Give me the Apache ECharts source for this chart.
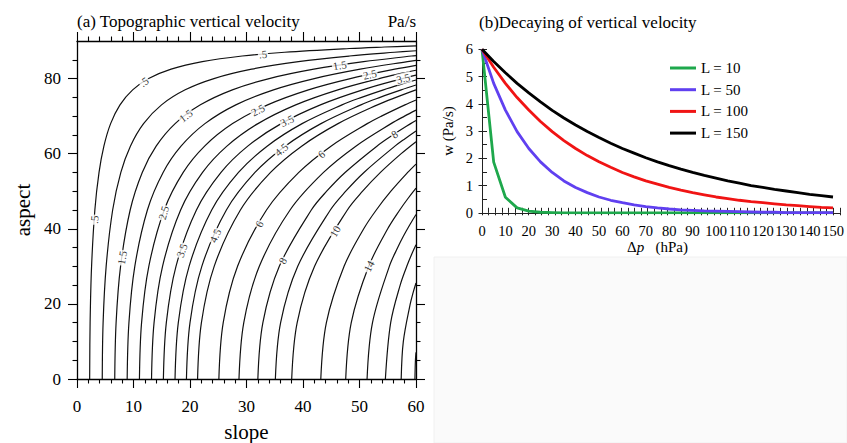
<!DOCTYPE html>
<html><head><meta charset="utf-8">
<script src="https://cdn.jsdelivr.net/npm/echarts@6/dist/echarts.min.js"></script>
<style>html,body{margin:0;padding:0;background:#fff}#c{width:847px;height:443px}</style>
</head><body><div id="c"></div>
<script>
// ---------- Panel (a): contour levels of topographic vertical velocity (Pa/s) ----------
const levels = [0.5, 1, 1.5, 2, 2.5, 3, 3.5, 4, 4.5, 5, 6, 7, 8, 9, 10, 12, 14, 16, 18, 20, 22];
// each contour: [slope, aspect] points
const c05 = [[2.24,0],[2.32,15],[2.58,30],[3.16,45],[3.90,55],[4.76,62],[5.95,68],[7.61,73],[9.85,77],[12.68,80],[16.66,82.5],[22.18,84.5],[29.23,86],[36.75,87],[48.21,88],[54.44,88.4],[60,88.71]];
const c10 = [[4.47,0],[4.62,15],[5.16,30],[6.31,45],[7.76,55],[9.45,62],[11.78,68],[14.96,73],[19.15,77],[24.23,80],[30.91,82.5],[39.19,84.5],[48.22,86],[56.20,87],[60,87.41]];
const c15 = [[6.68,0],[6.92,15],[7.71,30],[9.41,45],[11.55,55],[14.01,62],[17.37,68],[21.84,73],[27.50,77],[34.01,80],[41.92,82.5],[50.73,84.5],[59.22,86],[60,86.12]];
const c20 = [[8.88,0],[9.19,15],[10.23,30],[12.46,45],[15.24,55],[18.41,62],[22.64,68],[28.11,73],[34.78,77],[41.99,80],[50.13,82.5],[58.48,84.5],[60,84.82]];
const c25 = [[11.05,0],[11.43,15],[12.71,30],[15.44,45],[18.80,55],[22.59,62],[27.54,68],[33.74,73],[40.96,77],[48.37,80],[56.25,82.5],[60,83.53]];
const c30 = [[13.19,0],[13.64,15],[15.14,30],[18.34,45],[22.22,55],[26.53,62],[32.03,68],[38.71,73],[46.17,77],[53.47,80],[57.75,81.5],[60,82.22]];
const c35 = [[15.29,0],[15.81,15],[17.52,30],[21.14,45],[25.49,55],[30.22,62],[36.13,68],[43.08,73],[50.55,77],[57.59,80],[60,80.92]];
const c40 = [[17.35,0],[17.93,15],[19.84,30],[23.84,45],[28.58,55],[33.65,62],[39.84,68],[46.90,73],[50.37,75],[54.24,77],[57.46,78.5],[60,79.61]];
const c45 = [[19.37,0],[20.00,15],[22.09,30],[26.44,45],[31.50,55],[36.83,62],[43.18,68],[50.25,73],[53.64,75],[57.38,77],[60,78.29]];
const c50 = [[21.34,0],[22.02,15],[24.28,30],[28.92,45],[34.26,55],[39.76,62],[46.20,68],[53.18,73],[56.47,75],[60,76.97]];
const c60 = [[25.11,0],[25.88,15],[28.42,30],[33.54,45],[39.26,55],[44.95,62],[51.37,68],[53.88,70],[58.04,73],[60,74.30]];
const c70 = [[28.67,0],[29.52,15],[32.27,30],[37.71,45],[43.63,55],[49.35,62],[55.59,68],[57.97,70],[60,71.59]];
const c80 = [[32.01,0],[32.90,15],[35.81,30],[41.47,45],[44.19,50],[47.45,55],[53.08,62],[55.93,65],[59.06,68],[60,68.85]];
const c90 = [[35.11,0],[36.04,15],[39.07,30],[44.84,45],[47.57,50],[50.79,55],[56.27,62],[58.06,64],[60,66.05]];
const c100 = [[38.00,0],[38.97,15],[42.05,30],[47.85,45],[50.55,50],[53.71,55],[57.38,60],[60,63.19]];
const c120 = [[43.15,0],[44.14,15],[47.27,30],[50.75,40],[52.97,45],[55.56,50],[58.53,55],[60,57.23]];
const c140 = [[47.56,0],[48.54,15],[51.63,30],[54.99,40],[57.12,45],[58.54,48],[60,50.84]];
const c160 = [[51.34,0],[52.30,15],[55.28,30],[56.76,35],[57.76,38],[58.88,41],[60,43.80]];
const c180 = [[54.58,0],[55.52,15],[57.20,25],[58.37,30],[59.18,33],[60,35.72]];
const c200 = [[57.38,0],[57.76,10],[58.98,20],[59.49,23],[60,25.56]];
const c220 = [[59.81,0],[59.90,5],[60,7.10]];
const contourLines = [c05,c10,c15,c20,c25,c30,c35,c40,c45,c50,c60,c70,c80,c90,c100,c120,c140,c160,c180,c200,c220];

// contour labels: level, and where it sits (slope, aspect)
const labelLevels  = [0.5, 0.5, 0.5, 1.5, 1.5, 1.5, 2.5, 2.5, 2.5, 3.5, 3.5, 3.5, 4.5, 4.5, 6, 6, 8, 8, 10, 14];
const labelSlopes  = [32.9, 11.6, 3.3, 46.5, 19.1, 7.9, 51.8, 31.8, 15.2, 57.8, 37.1, 18.2, 36.2, 24.1, 43.0, 31.8, 56.0, 36.2, 45.3, 51.2];
const labelAspects = [86.9, 79.7, 42.4, 83.7, 70.4, 32.3, 81.3, 72.2, 44.3, 79.7, 69.0, 34.4, 61.0, 38.4, 60.3, 41.6, 65.6, 31.7, 39.7, 30.4];

const aspectTicks = [0, 20, 40, 60, 80];
const aspectMinorTicks = [5, 10, 15, 25, 30, 35, 45, 50, 55, 65, 70, 75, 85];

// ---------- Panel (b): decaying of vertical velocity ----------
const dp = [0,5,10,15,20,25,30,35,40,45,50,55,60,65,70,75,80,85,90,95,100,105,110,115,120,125,130,135,140,145,150];
const wL10  = [6,1.86,0.57,0.18,0.06,0.02,0.01,0,0,0,0,0,0,0,0,0,0,0,0,0,0,0,0,0,0,0,0,0,0,0,0];
const wL50  = [6,4.75,3.77,2.98,2.36,1.87,1.48,1.17,0.93,0.74,0.58,0.46,0.37,0.29,0.23,0.18,0.14,0.11,0.09,0.07,0.06,0.05,0.04,0.03,0.02,0.02,0.01,0.01,0.01,0.01,0.01];
const wL100 = [6,5.34,4.75,4.23,3.77,3.35,2.98,2.65,2.36,2.10,1.87,1.67,1.48,1.32,1.17,1.05,0.93,0.83,0.74,0.66,0.58,0.52,0.46,0.41,0.37,0.33,0.29,0.26,0.23,0.20,0.18];
const wL150 = [6,5.55,5.14,4.75,4.40,4.07,3.76,3.48,3.22,2.98,2.76,2.55,2.36,2.19,2.02,1.87,1.73,1.60,1.48,1.37,1.27,1.17,1.09,1.00,0.93,0.86,0.80,0.74,0.68,0.63,0.58];
const seriesNames = ['L = 10', 'L = 50', 'L = 100', 'L = 150'];
const seriesColors = ['#1ea84c', '#6040f0', '#f01414', '#000000'];
const wSeries = [wL10, wL50, wL100, wL150];

// ---------- build ----------
const SERIF = '"Liberation Serif","Times New Roman",serif';
const chart = echarts.init(document.getElementById('c'), null, {renderer: 'svg'});
const fmtLevel = v => String(v).replace(/^0\./, '.');
const black = '#000';

const contourSeries = contourLines.map((pts, i) => ({
  type: 'line', name: 'w' + levels[i], xAxisIndex: 0, yAxisIndex: 0,
  data: pts, showSymbol: false, symbol: 'none', smooth: 0.35,
  lineStyle: {color: '#111', width: 1.2}, z: 2, silent: true
}));

const bSeries = wSeries.map((arr, i) => ({
  type: 'line', name: seriesNames[i], xAxisIndex: 2, yAxisIndex: 4,
  data: dp.map((x, j) => [x, arr[j]]), showSymbol: false, symbol: 'none',
  color: seriesColors[i], itemStyle: {color: seriesColors[i]},
  lineStyle: {color: seriesColors[i], width: 2.8}, z: 3
}));

const tickStyle = {color: black, width: 1.1};
function axA(extra) {
  return Object.assign({
    type: 'value', splitLine: {show: false},
    axisLine: {show: true, onZero: false, lineStyle: {color: black, width: 1.3}},
    axisTick: {show: true, inside: false, length: 9, lineStyle: tickStyle},
    axisLabel: {show: false}
  }, extra);
}

const option = {
  backgroundColor: '#fff',
  animation: false,
  title: [
    {text: '(a) Topographic vertical velocity', left: 77, top: 13, padding: 0,
     textStyle: {fontFamily: SERIF, fontSize: 17, fontWeight: 'normal', color: black}},
    {text: 'Pa/s', right: 431, top: 13, padding: 0,
     textStyle: {fontFamily: SERIF, fontSize: 17, fontWeight: 'normal', color: black}},
    {text: '(b)Decaying of vertical velocity', left: 479, top: 14, padding: 0,
     textStyle: {fontFamily: SERIF, fontSize: 17, fontWeight: 'normal', color: black}}
  ],
  legend: {
    data: seriesNames, orient: 'vertical', left: 670, top: 60.5, padding: 0,
    itemGap: 6.7, itemWidth: 26, itemHeight: 3, icon: 'rect',
    textStyle: {fontFamily: SERIF, fontSize: 15, color: black, lineHeight: 15}
  },
  graphic: [
    {type: 'rect', silent: true, z: -10, shape: {x: 434, y: 257, width: 413, height: 186},
     style: {fill: '#fafafa', stroke: '#f0f0f0', lineWidth: 1}}
  ],
  grid: [
    {left: 77, top: 41, width: 339, height: 338, outerBoundsMode: 'none', containLabel: false},
    {left: 482, top: 49.3, width: 351, height: 163.5, outerBoundsMode: 'none', containLabel: false},
    {left: 482, top: 49.3, width: 358, height: 163.5, outerBoundsMode: 'none', containLabel: false}
  ],
  xAxis: [
    axA({gridIndex: 0, min: 0, max: 60, interval: 10, position: 'bottom',
      minorTick: {show: true, splitNumber: 5, length: 4.5, lineStyle: tickStyle},
      axisLabel: {show: true, fontFamily: SERIF, fontSize: 17, color: black, margin: 19},
      name: 'slope', nameLocation: 'middle', nameGap: 42,
      nameTextStyle: {fontFamily: SERIF, fontSize: 21, color: black}}),
    axA({gridIndex: 0, min: 0, max: 60, interval: 10, position: 'top',
      minorTick: {show: true, splitNumber: 5, length: 4.5, lineStyle: tickStyle}}),
    {type: 'value', gridIndex: 1, min: 0, max: 150, interval: 10, position: 'bottom', splitLine: {show: false},
      axisLine: {show: false, onZero: false}, axisTick: {show: false},
      axisLabel: {fontFamily: SERIF, fontSize: 14.5, color: black, margin: 11},
      name: '{n|Δ}{i|p}{n|   (hPa)}', nameLocation: 'middle', nameGap: 24,
      nameTextStyle: {rich: {
        n: {fontFamily: SERIF, fontSize: 15, color: black},
        i: {fontFamily: SERIF, fontSize: 15, color: black, fontStyle: 'italic'}}}},
    {type: 'value', gridIndex: 2, min: 0, max: 54, interval: 1, position: 'bottom', splitLine: {show: false},
      axisLine: {show: true, onZero: false, lineStyle: {color: '#222', width: 1}},
      axisTick: {show: true, inside: true, length: 5, lineStyle: {color: '#222', width: 1}},
      axisLabel: {show: false}},
    {type: 'value', gridIndex: 2, min: 0, max: 54, interval: 1, position: 'bottom', splitLine: {show: false},
      axisLine: {show: false, onZero: false},
      axisTick: {show: true, inside: false, length: 2.5, lineStyle: {color: '#222', width: 1}},
      axisLabel: {show: false}}
  ],
  yAxis: [
    axA({gridIndex: 0, min: 0, max: 90, interval: 20, position: 'left',
      axisTick: {show: true, inside: false, length: 9, customValues: aspectTicks, lineStyle: tickStyle},
      axisLabel: {show: true, customValues: aspectTicks, fontFamily: SERIF, fontSize: 17, color: black, margin: 16},
      name: 'aspect', nameLocation: 'middle', nameGap: 44, nameRotate: 90,
      nameTextStyle: {fontFamily: SERIF, fontSize: 21, color: black}}),
    axA({gridIndex: 0, min: 0, max: 90, position: 'left', axisLine: {show: false, onZero: false},
      axisTick: {show: true, inside: false, length: 4.5, customValues: aspectMinorTicks, lineStyle: tickStyle}}),
    axA({gridIndex: 0, min: 0, max: 90, interval: 20, position: 'right',
      axisTick: {show: true, inside: false, length: 9, customValues: aspectTicks, lineStyle: tickStyle}}),
    axA({gridIndex: 0, min: 0, max: 90, position: 'right', axisLine: {show: false, onZero: false},
      axisTick: {show: true, inside: false, length: 4.5, customValues: aspectMinorTicks, lineStyle: tickStyle}}),
    {type: 'value', gridIndex: 1, min: 0, max: 6, interval: 1, position: 'left', splitLine: {show: false},
      axisLine: {show: true, onZero: false, lineStyle: {color: '#222', width: 1}},
      axisTick: {show: true, inside: false, length: 3.5, lineStyle: {color: '#222', width: 1}},
      axisLabel: {fontFamily: SERIF, fontSize: 14.5, color: black, margin: 9},
      name: 'w (Pa/s)', nameLocation: 'middle', nameGap: 27, nameRotate: 90,
      nameTextStyle: {fontFamily: SERIF, fontSize: 15, color: black}},
    {type: 'value', gridIndex: 1, min: 0, max: 6, interval: 0.5, position: 'left', splitLine: {show: false},
      axisLine: {show: false, onZero: false},
      axisTick: {show: true, inside: true, length: 5, lineStyle: {color: '#222', width: 1}},
      axisLabel: {show: false}},
    {type: 'value', gridIndex: 2, min: 0, max: 6, show: false, position: 'left', splitLine: {show: false}}
  ],
  series: contourSeries.concat(bSeries)
};
chart.setOption(option);

// place contour labels on their lines, rotated along the local line direction
function buildLabels() {
  const finder = {seriesIndex: 0};
  const out = [];
  for (let i = 0; i < labelLevels.length; i++) {
    const line = contourLines[levels.indexOf(labelLevels[i])];
    const p = chart.convertToPixel(finder, [labelSlopes[i], labelAspects[i]]);
    let best = null;
    for (let j = 0; j < line.length - 1; j++) {
      const a = chart.convertToPixel(finder, line[j]);
      const b = chart.convertToPixel(finder, line[j + 1]);
      const dx = b[0] - a[0], dy = b[1] - a[1];
      const L2 = dx * dx + dy * dy;
      let t = L2 ? ((p[0] - a[0]) * dx + (p[1] - a[1]) * dy) / L2 : 0;
      t = Math.max(0, Math.min(1, t));
      const q = [a[0] + t * dx, a[1] + t * dy];
      const d = (q[0] - p[0]) ** 2 + (q[1] - p[1]) ** 2;
      if (!best || d < best.d) best = {d, q, ang: Math.atan2(-dy, dx) * 180 / Math.PI};
    }
    out.push({value: chart.convertFromPixel(finder, best.q), name: fmtLevel(labelLevels[i]),
              label: {rotate: best.ang}});
  }
  return out;
}
chart.setOption({series: option.series.concat([{
  type: 'scatter', name: 'labels', xAxisIndex: 0, yAxisIndex: 0, symbolSize: 0, z: 10, silent: true,
  data: buildLabels(),
  label: {show: true, position: 'inside', formatter: p => p.name, fontFamily: SERIF, fontSize: 11,
          color: black, backgroundColor: '#fff', padding: [0, 1], lineHeight: 11}
}])});
</script></body></html>
